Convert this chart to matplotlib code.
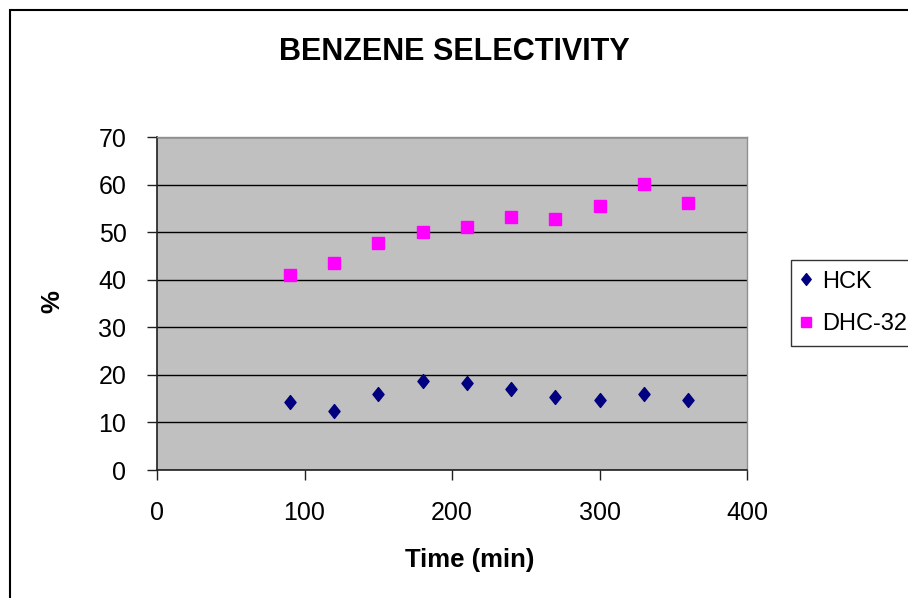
import matplotlib
matplotlib.use("Agg")
import matplotlib.pyplot as plt
from matplotlib.path import Path
from matplotlib.patches import Rectangle

plt.rcParams['font.family'] = ['Liberation Sans', 'DejaVu Sans']

# data
time_min = [90, 120, 150, 180, 210, 240, 270, 300, 330, 360]
hck = [14.3, 12.5, 16.0, 18.7, 18.3, 17.0, 15.3, 14.8, 16.0, 14.8]
dhc32 = [40.9, 43.5, 47.8, 50.1, 51.0, 53.2, 52.8, 55.4, 60.2, 56.2]

x_ticks = [0, 100, 200, 300, 400]
y_ticks = [0, 10, 20, 30, 40, 50, 60, 70]

W, H = 908, 598
fig = plt.figure(figsize=(W / 100, H / 100), dpi=100)
fig.patch.set_facecolor('white')

# outer chart frame (right and bottom edges fall outside the picture)
fig.patches.append(Rectangle((10 / W, -0.1), 1.2, (H - 10) / H + 0.1,
                             transform=fig.transFigure, fill=False,
                             edgecolor='black', linewidth=1.5))

ax = fig.add_axes([157 / W, (H - 470) / H, 590 / W, 333 / H])
ax.set_facecolor('#C0C0C0')

diamond = Path([(0, 1), (0.8, 0), (0, -1), (-0.8, 0), (0, 1)],
               [Path.MOVETO, Path.LINETO, Path.LINETO, Path.LINETO, Path.CLOSEPOLY])

ax.plot(time_min, hck, linestyle='none', marker=diamond, markersize=10,
        color='#000080', label='HCK', zorder=3)
ax.plot(time_min, dhc32, linestyle='none', marker='s', markersize=8.5,
        color='#FF00FF', label='DHC-32', zorder=3)

ax.set_xlim(0, 400)
ax.set_ylim(0, 70)
ax.set_xticks(x_ticks)
ax.set_yticks(y_ticks)
ax.yaxis.grid(True, color='black', linewidth=1)
ax.set_axisbelow(True)

for side in ['left', 'bottom']:
    ax.spines[side].set_color('#202020')
    ax.spines[side].set_linewidth(1.2)
for side in ['top', 'right']:
    ax.spines[side].set_color('#909090')
    ax.spines[side].set_linewidth(1)

ax.tick_params(axis='both', direction='out', length=7, width=1, color='#202020',
               labelsize=18)
ax.tick_params(axis='y', pad=15)
ax.tick_params(axis='x', pad=15)

fig.text(454 / W, 1 - 52 / H, 'BENZENE SELECTIVITY', fontsize=22,
         fontweight='bold', ha='center', va='center')

ax.set_xlabel('Time (min)', fontsize=18.5, fontweight='bold')
ax.xaxis.set_label_coords((470 - 157) / 590, (470 - 560) / 333)
ax.xaxis.label.set_va('center')
ax.set_ylabel('%', fontsize=18.5, fontweight='bold')
ax.yaxis.set_label_coords((52 - 157) / 590, (470 - 302) / 333)
ax.yaxis.label.set_va('center')

leg = fig.legend(loc='upper left', bbox_to_anchor=(791 / W, 1 - 260 / H),
                 fontsize=17, frameon=True, fancybox=False, edgecolor='black',
                 handlelength=0.4, handletextpad=0.45, borderpad=0.45,
                 labelspacing=0.86, borderaxespad=0, markerscale=0.85)
leg.get_frame().set_linewidth(1)

fig.savefig('out.png', dpi=100)
